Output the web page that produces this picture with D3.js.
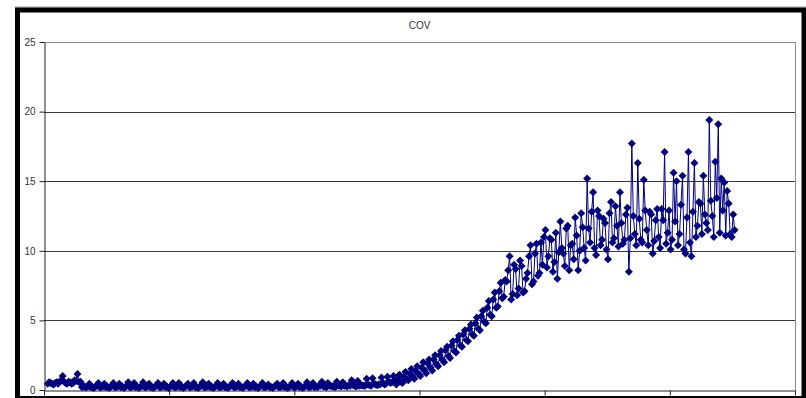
<!DOCTYPE html>
<html>
<head>
<meta charset="utf-8">
<script src="https://cdn.jsdelivr.net/npm/d3@7"></script>
<style>
html,body{margin:0;padding:0;background:#fff;}
svg{display:block;}
</style>
</head>
<body>
<svg id="chart" width="806" height="398"></svg>
<script>
const title = "COV";
const yTicks = [0, 5, 10, 15, 20, 25];
const categoryCount = 504;
const categories = d3.range(1, categoryCount + 1);
const xTickCats = [0, 84, 168, 252, 336, 420, 504];

// odd samples (read at ~3px intervals)
const startCluster = [0.45, 0.5, 0.4, 0.55, 0.6, 1.0, 0.5, 0.6, 0.45, 0.7, 1.15, 0.6];
const flatSection = [
  0.3, 0.2, 0.45, 0.2, 0.25, 0.5, 0.2, 0.45,
  0.25, 0.2, 0.5, 0.2, 0.45, 0.25, 0.2, 0.55,
  0.2, 0.5, 0.25, 0.2, 0.55, 0.2, 0.45, 0.2,
  0.25, 0.5, 0.2, 0.45, 0.25, 0.2, 0.5, 0.2,
  0.5, 0.25, 0.2, 0.45, 0.2, 0.5, 0.2, 0.25,
  0.55, 0.2, 0.45, 0.25, 0.2, 0.5, 0.2, 0.45,
  0.2, 0.25, 0.5, 0.2, 0.45, 0.2, 0.25, 0.5,
  0.2, 0.45, 0.25, 0.2, 0.5, 0.2, 0.4, 0.2,
  0.25, 0.45, 0.2, 0.5, 0.25, 0.2, 0.5, 0.2,
  0.45, 0.25, 0.2, 0.55, 0.2, 0.5, 0.25, 0.3,
  0.6, 0.25, 0.5, 0.3, 0.25, 0.6, 0.3, 0.55,
  0.3, 0.35, 0.7, 0.3, 0.65, 0.35, 0.3, 0.8,
  0.35, 0.85, 0.4, 0.4, 0.9, 0.4, 0.95, 0.5
];
const riseSection = [
  1.0, 0.4, 1.1, 0.5, 1.3, 0.7, 1.5, 0.8,
  1.7, 1.0, 2.0, 1.2, 2.2, 1.4, 2.5, 1.7,
  2.8, 2.0, 3.1, 2.3, 3.5, 2.7, 3.9, 3.1,
  4.3, 3.5, 4.7, 3.9, 5.2, 4.3, 5.7, 4.8,
  6.4, 5.3, 7.0, 6.0, 7.7, 6.7
];
const highSection = [
  7.8, 9.6, 6.9, 8.7, 7.3, 8.9, 7.1, 8.4, 10.4, 7.8, 10.5, 8.4,
  9.0, 11.5, 9.6, 10.8, 9.2, 8.0, 12.1, 9.8, 11.6, 8.6, 10.5, 12.4, 8.6, 12.7, 10.2,
  15.2, 10.6, 14.2, 9.7, 12.5, 10.8, 12.0, 9.4, 13.5, 10.9, 11.8, 14.2, 10.5, 12.6, 8.5, 17.7, 11.2, 16.3, 10.8, 15.1,
  11.5, 12.8, 9.8, 12.2, 11.0, 13.0, 17.1, 11.3, 10.1, 15.6, 15.0, 11.2, 15.4, 9.8, 17.1,
  9.6, 16.3, 11.8, 13.4, 15.4, 12.0, 19.4, 12.5, 16.4, 19.1, 15.2, 14.9, 14.3, 11.2, 12.6
];
// in-between samples
const startClusterMid = [0.55, 0.45, 0.5, 0.45, 0.7, 0.6, 0.45, 0.55, 0.5, 0.65, 0.55, 0.2];
const flatSectionMid = [
  0.2, 0.25, 0.2, 0.15, 0.3, 0.2, 0.25, 0.2,
  0.15, 0.3, 0.2, 0.25, 0.2, 0.15, 0.3, 0.2,
  0.25, 0.2, 0.15, 0.3, 0.2, 0.25, 0.2, 0.15,
  0.3, 0.2, 0.25, 0.2, 0.15, 0.3, 0.2, 0.25,
  0.2, 0.15, 0.3, 0.2, 0.25, 0.2, 0.15, 0.3,
  0.2, 0.25, 0.2, 0.15, 0.3, 0.2, 0.25, 0.2,
  0.15, 0.3, 0.2, 0.25, 0.2, 0.15, 0.3, 0.2,
  0.25, 0.2, 0.15, 0.3, 0.2, 0.25, 0.2, 0.15,
  0.3, 0.2, 0.25, 0.2, 0.15, 0.3, 0.2, 0.25,
  0.2, 0.15, 0.3, 0.2, 0.25, 0.2, 0.2, 0.3,
  0.25, 0.2, 0.3, 0.25, 0.2, 0.3, 0.25, 0.3,
  0.25, 0.3, 0.35, 0.25, 0.3, 0.35, 0.3, 0.4,
  0.3, 0.45, 0.35, 0.4, 0.5, 0.45, 0.6, 0.55
];
const riseSectionMid = [
  0.6, 0.75, 0.6, 0.95, 0.75, 1.15, 0.95, 1.35,
  1.15, 1.6, 1.4, 1.9, 1.6, 2.2, 1.85, 2.5,
  2.15, 2.85, 2.45, 3.2, 2.8, 3.6, 3.2, 4.0,
  3.6, 4.4, 4.0, 4.8, 4.4, 5.3, 4.9, 5.9,
  5.4, 6.5, 5.9, 7.1, 6.6, 7.9
];
const highSectionMid = [
  8.6, 6.5, 9.0, 6.8, 9.3, 7.0, 8.0, 9.6, 7.6, 9.8, 8.2, 10.6,
  11.0, 8.8, 10.9, 8.5, 11.3, 9.9, 10.2, 8.9, 11.8, 10.4, 9.4, 11.1, 10.0, 11.7, 9.3,
  11.6, 12.8, 10.2, 12.9, 10.4, 12.3, 10.1, 12.7, 10.6, 13.2, 10.3, 12.0, 10.8, 13.1, 10.9, 12.5, 10.4, 12.3, 10.6, 12.9,
  10.4, 12.6, 10.7, 13.0, 10.2, 12.2, 10.5, 12.9, 10.8, 12.1, 10.4, 13.3, 10.1, 12.4, 10.6,
  12.8, 11.0, 13.5, 11.2, 12.6, 11.5, 13.6, 11.0, 13.8, 11.3, 12.9, 11.1, 13.4, 11.0, 11.5
];

const samplesA = [].concat(startCluster, flatSection, riseSection, highSection);
const samplesB = [].concat(startClusterMid, flatSectionMid, riseSectionMid, highSectionMid);

const svg = d3.select("#chart");
const L = 44, R = 795, T = 42, B = 390;
const lineColor = "#000080";
const font = "Liberation Sans, Arial, sans-serif";

// outer frame
svg.append("line").attr("x1", 15).attr("x2", 806).attr("y1", 7).attr("y2", 7)
  .attr("stroke", "#a0a0a0").attr("stroke-width", 1);
svg.append("rect").attr("x", 17.5).attr("y", 10).attr("width", 786.5).attr("height", 388.5)
  .attr("fill", "none").attr("stroke", "#000").attr("stroke-width", 5);

const x = d3.scaleBand().domain(categories).range([L, R]).padding(0);
const xTick = d3.scaleLinear().domain([0, categoryCount]).range([L, R]);
const y = d3.scaleLinear().domain([0, 25]).range([B, T]);

// gridlines
svg.append("g").selectAll("line").data(yTicks.filter(d => d > 0)).join("line")
  .attr("x1", L).attr("x2", R)
  .attr("y1", d => Math.round(y(d)) + 0.5).attr("y2", d => Math.round(y(d)) + 0.5)
  .attr("stroke", d => d === 25 ? "#8c8c8c" : "#3a3a3a").attr("stroke-width", 1);
svg.append("line").attr("x1", R + 0.5).attr("x2", R + 0.5).attr("y1", T).attr("y2", B)
  .attr("stroke", "#8c8c8c");

// title
svg.append("text").attr("x", (L + R) / 2).attr("y", 29).attr("text-anchor", "middle")
  .attr("font-family", font).attr("font-size", 10).attr("fill", "#333").text(title);

// interleave samples along category axis
const pts = [];
samplesA.forEach((v, j) => {
  pts.push({ cat: categories[2 * j + 2], v: v });
  pts.push({ cat: categories[2 * j + 3], v: samplesB[j] });
});
pts.forEach(d => { d.cx = x(d.cat) + x.bandwidth() / 2; d.cy = y(d.v); });

svg.append("path").datum(pts)
  .attr("d", d3.line().x(d => d.cx).y(d => d.cy))
  .attr("fill", "none").attr("stroke", lineColor).attr("stroke-width", 1);
svg.append("g").selectAll("path").data(pts).join("path")
  .attr("d", "M0,-4L4,0L0,4L-4,0Z")
  .attr("transform", d => `translate(${d.cx},${d.cy})`)
  .attr("fill", lineColor);

// y axis
const yAxis = svg.append("g").attr("transform", `translate(${L + 0.5},0)`)
  .call(d3.axisLeft(y).tickValues(yTicks).tickSize(5).tickPadding(4).tickSizeOuter(0));
yAxis.select(".domain").attr("stroke", "#222");
yAxis.selectAll(".tick line").attr("stroke", "#222");
yAxis.selectAll("text").attr("font-family", font).attr("font-size", 10).attr("fill", "#333");

// x axis
const xAxis = svg.append("g").attr("transform", `translate(0,${B + 0.5})`)
  .call(d3.axisBottom(xTick).tickValues(xTickCats).tickFormat("").tickSize(5).tickSizeOuter(0));
xAxis.select(".domain").attr("stroke", "#222");
xAxis.selectAll(".tick line").attr("stroke", "#222");
</script>
</body>
</html>
